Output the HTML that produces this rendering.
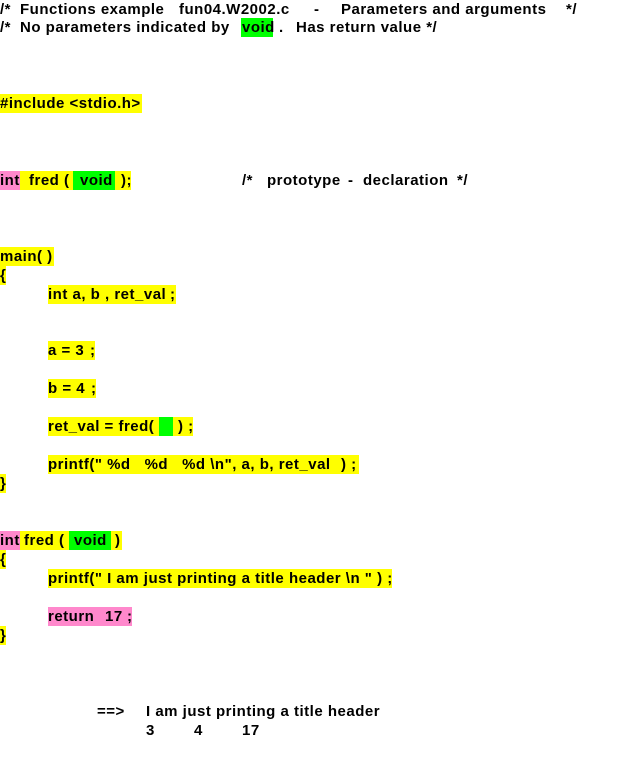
<!DOCTYPE html>
<html><head><meta charset="utf-8"><style>
body{margin:0;width:628px;height:778px;background:#fff;position:relative;overflow:hidden;font-family:"Liberation Sans",Arial,sans-serif;font-size:15px;font-weight:bold;letter-spacing:0.5px;color:#000}
.l{position:absolute;height:19px;line-height:19px;white-space:pre;width:620px}
.b{position:absolute;height:19px;top:0}
.y{background:#ffff00}.g{background:#00ff00}.p{background:#ff88cc}
.t{position:absolute;top:0;white-space:pre;line-height:19px}
</style></head><body>
<div class="l" style="left:0;top:0"><span class="t" style="left:0">/*</span><span class="t" style="left:20px">Functions example</span><span class="t" style="left:179px">fun04.W2002.c</span><span class="t" style="left:314px">-</span><span class="t" style="left:341px">Parameters and arguments</span><span class="t" style="left:566px">*/</span></div>
<div class="l" style="left:0;top:18px"><div class="b g" style="left:241px;width:32px"></div><span class="t" style="left:0">/*</span><span class="t" style="left:20px">No parameters indicated by</span><span class="t" style="left:242px">void</span><span class="t" style="left:279px">.</span><span class="t" style="left:296px">Has return value */</span></div>

<div class="l" style="left:0;top:94px"><div class="b y" style="left:0;width:142px"></div><span class="t">#include &lt;stdio.h&gt;</span></div>

<div class="l" style="left:0;top:171px"><div class="b p" style="left:0;width:20px"></div><div class="b y" style="left:20px;width:111px"></div><div class="b g" style="left:73px;width:42px"></div><span class="t">int</span><span class="t" style="left:29px">fred (</span><span class="t" style="left:80px">void</span><span class="t" style="left:121px">);</span><span class="t" style="left:242px">/*</span><span class="t" style="left:267px">prototype</span><span class="t" style="left:348px">-</span><span class="t" style="left:363px">declaration</span><span class="t" style="left:457px">*/</span></div>

<div class="l" style="left:0;top:247px"><div class="b y" style="left:0;width:54px"></div><span class="t">main( )</span></div>
<div class="l" style="left:0;top:266px"><div class="b y" style="left:0;width:6px"></div><span class="t">{</span></div>
<div class="l" style="left:48px;top:285px"><div class="b y" style="left:0;width:128px"></div><span class="t">int a, b , ret_val</span><span class="t" style="left:122px">;</span></div>
<div class="l" style="left:48px;top:341px"><div class="b y" style="left:0;width:47px"></div><span class="t">a = 3</span><span class="t" style="left:42px">;</span></div>
<div class="l" style="left:48px;top:379px"><div class="b y" style="left:0;width:48px"></div><span class="t">b = 4</span><span class="t" style="left:43px">;</span></div>
<div class="l" style="left:48px;top:417px"><div class="b y" style="left:0;width:145px"></div><div class="b g" style="left:111px;width:14px"></div><span class="t">ret_val = fred(</span><span class="t" style="left:130px">) ;</span></div>
<div class="l" style="left:48px;top:455px"><div class="b y" style="left:0;width:311px"></div><span class="t">printf(" %d   %d   %d \n", a, b, ret_val</span><span class="t" style="left:293px">) ;</span></div>
<div class="l" style="left:0;top:474px"><div class="b y" style="left:0;width:6px"></div><span class="t">}</span></div>

<div class="l" style="left:0;top:531px"><div class="b p" style="left:0;width:20px"></div><div class="b y" style="left:20px;width:102px"></div><div class="b g" style="left:69px;width:42px"></div><span class="t">int</span><span class="t" style="left:24px">fred (</span><span class="t" style="left:74px">void</span><span class="t" style="left:115px">)</span></div>
<div class="l" style="left:0;top:550px"><div class="b y" style="left:0;width:6px"></div><span class="t">{</span></div>
<div class="l" style="left:48px;top:569px"><div class="b y" style="left:0;width:344px"></div><span class="t">printf(" I am just printing a title header \n " ) ;</span></div>
<div class="l" style="left:48px;top:607px"><div class="b p" style="left:0;width:84px"></div><span class="t">return</span><span class="t" style="left:57px">17</span><span class="t" style="left:79px">;</span></div>
<div class="l" style="left:0;top:626px"><div class="b y" style="left:0;width:6px"></div><span class="t">}</span></div>

<div class="l" style="left:97px;top:702px">==&gt;</div>
<div class="l" style="left:146px;top:702px">I am just printing a title header</div>
<div class="l" style="left:146px;top:721px">3</div>
<div class="l" style="left:194px;top:721px">4</div>
<div class="l" style="left:242px;top:721px">17</div>
</body></html>
